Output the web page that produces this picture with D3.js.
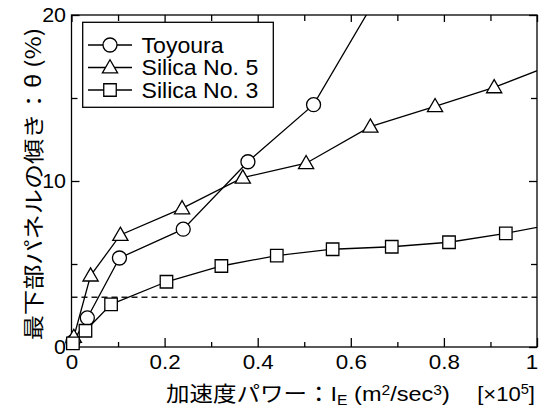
<!DOCTYPE html>
<html>
<head>
<meta charset="utf-8">
<script src="https://cdn.jsdelivr.net/npm/d3@7/dist/d3.min.js"></script>
<style>
  html, body { margin: 0; padding: 0; background: #fff; }
  svg { display: block; }
  text { font-family: "Liberation Sans", Arial, "Noto Sans CJK JP", sans-serif; fill: #000; }
</style>
</head>
<body>
<svg id="chart" width="539" height="414"></svg>
<script>
// Tilt of the lowest panel versus acceleration power, three sands
const seriesNames = ["Toyoura", "Silica No. 5", "Silica No. 3"];
const markerTypes = ["circle", "triangle", "square"];

const toyouraX = [0.003, 0.034, 0.103, 0.240, 0.379, 0.520, 0.650];
const toyouraY = [0.30, 1.75, 5.36, 7.10, 11.16, 14.60, 20.80];

const silica5X = [0.005, 0.041, 0.105, 0.2375, 0.368, 0.504, 0.642, 0.781, 0.908, 1.040];
const silica5Y = [0.60, 4.30, 6.75, 8.35, 10.20, 11.07, 13.27, 14.50, 15.64, 17.08];

const silica3X = [0.003, 0.030, 0.085, 0.204, 0.322, 0.441, 0.561, 0.688, 0.811, 0.933, 1.060];
const silica3Y = [0.22, 0.98, 2.57, 3.93, 4.88, 5.51, 5.89, 6.04, 6.31, 6.85, 7.53];

const thresholdY = 3;

const xMajorTicks = [0, 0.2, 0.4, 0.6, 0.8, 1];
const xMinorTicks = [0.1, 0.3, 0.5, 0.7, 0.9];
const yMajorTicks = [0, 10, 20];
const yMinorTicks = [5, 15];

const seriesX = [toyouraX, silica5X, silica3X];
const seriesY = [toyouraY, silica5Y, silica3Y];

const margin = { left: 71.5, right: 2, top: 15, bottom: 67 };
const W = 539, H = 414;
const svg = d3.select("#chart");

const x = d3.scaleLinear().domain([0, 1]).range([margin.left, W - margin.right]);
const y = d3.scaleLinear().domain([0, 20]).range([H - margin.bottom, margin.top]);

svg.append("defs").append("clipPath").attr("id", "plotClip")
  .append("rect")
  .attr("x", x(0)).attr("y", y(20))
  .attr("width", x(1) - x(0)).attr("height", y(0) - y(20));

// dashed reference level
svg.append("line")
  .attr("x1", x(0)).attr("x2", x(1))
  .attr("y1", y(thresholdY)).attr("y2", y(thresholdY))
  .attr("stroke", "#1a1a1a").attr("stroke-width", 1.5)
  .attr("stroke-dasharray", "6,4");

// axes: ticks pointing inward on all four sides
function styleAxis(g, size, stretch) {
  g.selectAll(".domain").remove();
  g.selectAll("line").attr("stroke", "#000").attr("stroke-width", 1.3);
  g.selectAll("text").attr("font-size", size || 19).attr("fill", "#000")
    .attr("transform", `scale(${stretch || 1},1)`);
}
const fmtX = d => d === 0 ? "0" : (d === 1 ? "1" : d3.format(".1f")(d));

const xAxisG = svg.append("g").attr("transform", `translate(0,${y(0)})`)
  .call(d3.axisBottom(x).tickValues(xMajorTicks).tickSize(-9).tickPadding(8).tickFormat(fmtX))
  .call(g => styleAxis(g, 20, 1.12));
// keep the last label inside the page edge
xAxisG.selectAll(".tick").filter(d => d === 1).select("text").attr("x", -5);

svg.append("g").attr("transform", `translate(0,${y(0)})`)
  .call(d3.axisBottom(x).tickValues(xMinorTicks).tickSize(-5).tickFormat(""))
  .call(g => styleAxis(g));
svg.append("g").attr("transform", `translate(0,${y(20)})`)
  .call(d3.axisTop(x).tickValues(xMajorTicks).tickSize(-7).tickFormat(""))
  .call(g => styleAxis(g));
svg.append("g").attr("transform", `translate(0,${y(20)})`)
  .call(d3.axisTop(x).tickValues(xMinorTicks).tickSize(-6).tickFormat(""))
  .call(g => styleAxis(g));

svg.append("g").attr("transform", `translate(${x(0)},0)`)
  .call(d3.axisLeft(y).tickValues(yMajorTicks).tickSize(-8).tickPadding(5).tickFormat(d3.format("d")))
  .call(g => styleAxis(g, 19.5, 1.1));
svg.append("g").attr("transform", `translate(${x(0)},0)`)
  .call(d3.axisLeft(y).tickValues(yMinorTicks).tickSize(-6).tickFormat(""))
  .call(g => styleAxis(g));
svg.append("g").attr("transform", `translate(${x(1)},0)`)
  .call(d3.axisRight(y).tickValues(yMajorTicks).tickSize(-8).tickFormat(""))
  .call(g => styleAxis(g));
svg.append("g").attr("transform", `translate(${x(1)},0)`)
  .call(d3.axisRight(y).tickValues(yMinorTicks).tickSize(-6).tickFormat(""))
  .call(g => styleAxis(g));

// frame
svg.append("rect")
  .attr("x", x(0)).attr("y", y(20))
  .attr("width", x(1) - x(0)).attr("height", y(0) - y(20))
  .attr("fill", "none").attr("stroke", "#000").attr("stroke-width", 1.3);

// marker shapes
const symbolFor = {
  circle: d3.symbol().type(d3.symbolCircle).size(Math.PI * 7 * 7),
  triangle: d3.symbol().type(d3.symbolTriangle).size(100),
  square: d3.symbol().type(d3.symbolSquare).size(12.5 * 12.5)
};
function drawMarker(g, type, cx, cy) {
  g.append("path")
    .attr("d", symbolFor[type]())
    .attr("transform", `translate(${cx},${cy + (type === "triangle" ? 1 : 0)})`)
    .attr("fill", "#fff").attr("stroke", "#000").attr("stroke-width", 1.3);
}

const line = d3.line().x(d => x(d[0])).y(d => y(d[1]));

seriesNames.forEach((name, i) => {
  const pts = seriesX[i].map((v, k) => [v, seriesY[i][k]]);
  const g = svg.append("g");
  g.append("path")
    .datum(pts)
    .attr("d", line)
    .attr("clip-path", "url(#plotClip)")
    .attr("fill", "none").attr("stroke", "#000").attr("stroke-width", 1.3);
  pts.filter(p => p[0] <= 1 && p[1] <= 20)
    .forEach(p => drawMarker(g, markerTypes[i], x(p[0]), y(p[1])));
});

// legend
const lg = svg.append("g");
lg.append("rect")
  .attr("x", 82.7).attr("y", 22.3).attr("width", 190.6).attr("height", 85)
  .attr("fill", "#fff").attr("stroke", "#000").attr("stroke-width", 1.3);
seriesNames.forEach((name, i) => {
  const cy = 45 + i * 22.5;
  lg.append("line").attr("x1", 88).attr("x2", 132).attr("y1", cy).attr("y2", cy)
    .attr("stroke", "#000").attr("stroke-width", 1.3);
  drawMarker(lg, markerTypes[i], 110, cy);
  lg.append("text")
    .attr("transform", `translate(141.5,${cy}) scale(1.05,1)`)
    .attr("dy", "0.36em")
    .attr("font-size", 22).text(name);
});

// axis titles
const xt = svg.append("text")
  .attr("transform", "translate(166,401) scale(1.12,1)")
  .attr("font-size", 21);
xt.append("tspan").style("font-family", "'Noto Sans CJK JP'").text("加速度パワー：");
xt.append("tspan").text("I");
xt.append("tspan").attr("font-size", 14).attr("dy", 4).text("E");
xt.append("tspan").attr("dy", -4).text(" (m");
xt.append("tspan").attr("font-size", 14).attr("dy", -6).text("2");
xt.append("tspan").attr("dy", 6).text("/sec");
xt.append("tspan").attr("font-size", 14).attr("dy", -6).text("3");
xt.append("tspan").attr("dy", 6).text(")");

const xu = svg.append("text")
  .attr("transform", "translate(535,401) scale(1.05,1)")
  .attr("font-size", 21)
  .attr("text-anchor", "end");
xu.append("tspan").text("[×10");
xu.append("tspan").attr("font-size", 14).attr("dy", -7).text("5");
xu.append("tspan").attr("dy", 7).text("]");

svg.append("text")
  .attr("transform", "translate(41,184) rotate(-90) scale(1.2,1)")
  .attr("text-anchor", "middle")
  .attr("font-size", 21)
  .style("font-family", "'Noto Sans CJK JP', 'Liberation Sans', sans-serif")
  .text("最下部パネルの傾き：θ (%)");
</script>
</body>
</html>
